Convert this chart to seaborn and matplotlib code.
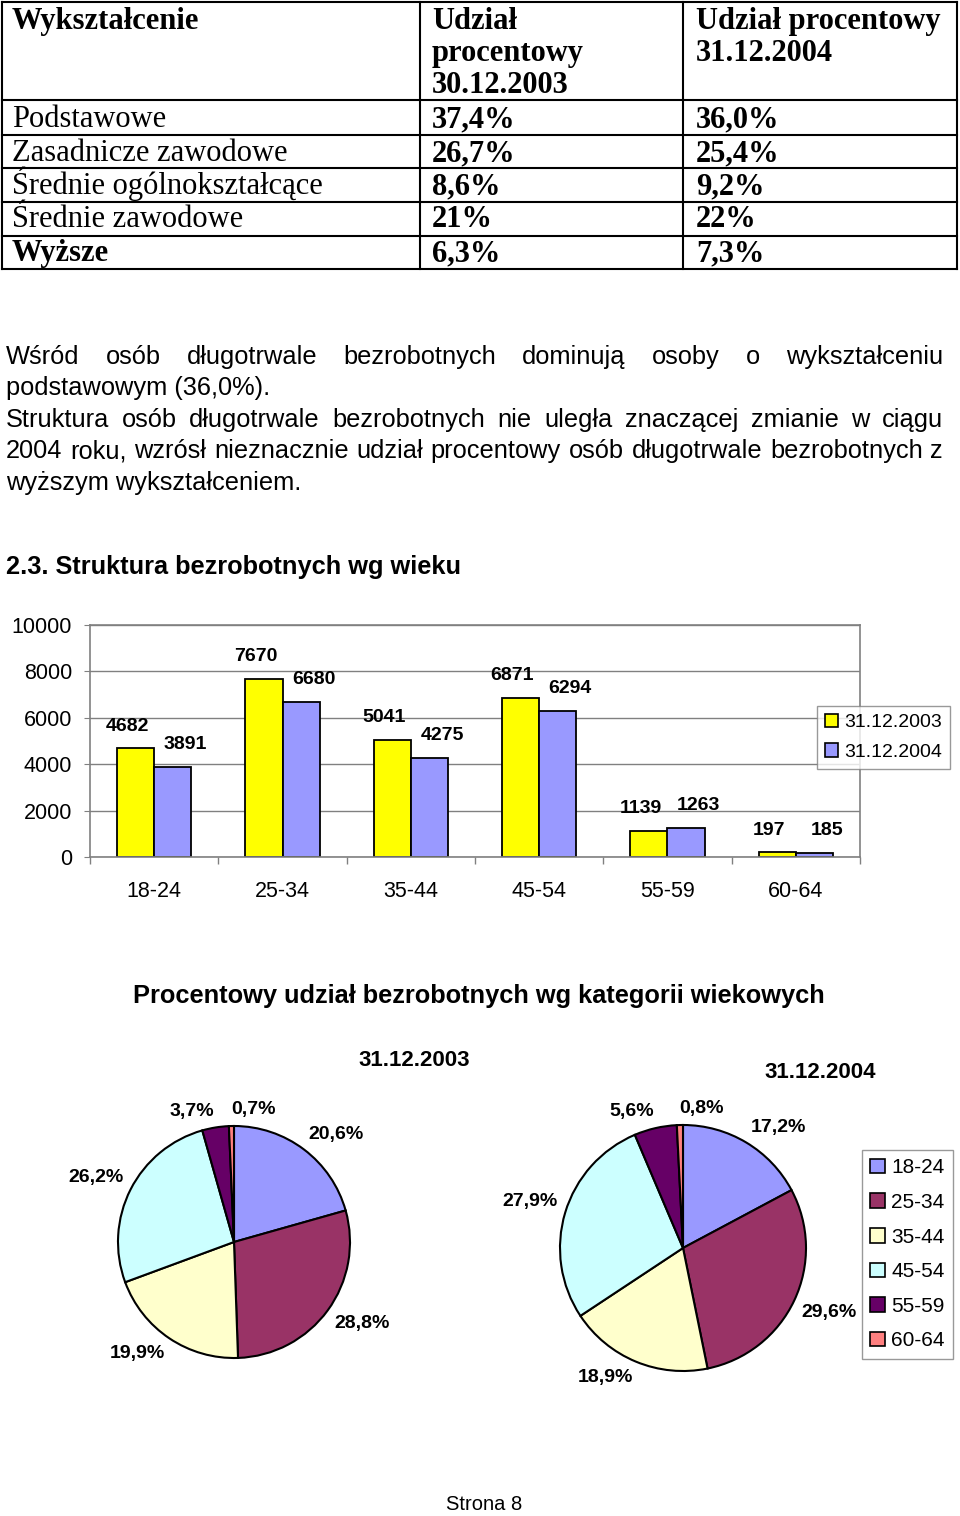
import numpy as np
import pandas as pd
import matplotlib
matplotlib.use("Agg")
import matplotlib.pyplot as plt
import seaborn as sns
from matplotlib.patches import Patch

# ---------------- data ----------------
table_header = ["Wykształcenie", "Udział\nprocentowy\n30.12.2003", "Udział procentowy\n31.12.2004"]
edu_levels = ["Podstawowe", "Zasadnicze zawodowe", "Średnie ogólnokształcące", "Średnie zawodowe", "Wyższe"]
edu_2003 = ["37,4%", "26,7%", "8,6%", "21%", "6,3%"]
edu_2004 = ["36,0%", "25,4%", "9,2%", "22%", "7,3%"]

paragraph_lines = [
    ("Wśród osób długotrwale bezrobotnych dominują osoby o wykształceniu", True),
    ("podstawowym (36,0%).", False),
    ("Struktura osób długotrwale bezrobotnych nie uległa znaczącej zmianie w ciągu", True),
    ("2004 roku, wzrósł nieznacznie udział procentowy osób długotrwale bezrobotnych z", True),
    ("wyższym wykształceniem.", False),
]
section_heading = "2.3. Struktura bezrobotnych wg wieku"

age_groups = ["18-24", "25-34", "35-44", "45-54", "55-59", "60-64"]
count_2003 = [4682, 7670, 5041, 6871, 1139, 197]
count_2004 = [3891, 6680, 4275, 6294, 1263, 185]
series_labels = ["31.12.2003", "31.12.2004"]
y_ticks = [0, 2000, 4000, 6000, 8000, 10000]

pie_title = "Procentowy udział bezrobotnych wg kategorii wiekowych"
share_2003 = [20.6, 28.8, 19.9, 26.2, 3.7, 0.7]
share_2004 = [17.2, 29.6, 18.9, 27.9, 5.6, 0.8]
footer = "Strona 8"

bar_colors = ["#FFFF00", "#9999FF"]
pie_colors = ["#9999FF", "#993366", "#FFFFCC", "#CCFFFF", "#660066", "#FF8080"]

# ---------------- figure ----------------
W, H = 960, 1516
plt.rcParams["font.family"] = ["Liberation Sans", "DejaVu Sans"]
fig = plt.figure(figsize=(W / 100, H / 100), dpi=100)
bg = fig.add_axes([0, 0, 1, 1])
bg.set_xlim(0, W)
bg.set_ylim(H, 0)
bg.axis("off")
renderer = fig.canvas.get_renderer()

# ---------------- table ----------------
col_x = [2, 420, 683, 957]
row_y = [2, 100, 135, 168, 202, 236, 269]
for y in row_y:
    bg.plot([col_x[0], col_x[-1]], [y, y], color="black", lw=1.5, solid_capstyle="projecting")
for x in col_x:
    bg.plot([x, x], [row_y[0], row_y[-1]], color="black", lw=1.5, solid_capstyle="projecting")

serif = ["Liberation Serif", "DejaVu Serif"]
tsize = 22
text_x = [12, 432, 696]
for cx, head in zip(text_x, table_header):
    for i, line in enumerate(head.split("\n")):
        bg.text(cx, 29 + 32 * i, line, family=serif, fontsize=tsize, fontweight="bold", va="baseline")
row_base = [127, 161, 194, 227, 261]
for i, (lvl, a, b) in enumerate(zip(edu_levels, edu_2003, edu_2004)):
    bg.text(text_x[0], row_base[i], lvl, family=serif, fontsize=tsize,
            fontweight="bold" if i == len(edu_levels) - 1 else "normal", va="baseline")
    bg.text(text_x[1], row_base[i], a, family=serif, fontsize=tsize, fontweight="bold", va="baseline")
    bg.text(text_x[2], row_base[i], b, family=serif, fontsize=tsize, fontweight="bold", va="baseline")

# ---------------- paragraph ----------------
def justify(line, y, x0, x1, **kw):
    words = line.split()
    texts = [bg.text(0, y, w, va="baseline", **kw) for w in words]
    widths = [t.get_window_extent(renderer).width for t in texts]
    gap = (x1 - x0 - sum(widths)) / (len(words) - 1)
    x = x0
    for t, w in zip(texts, widths):
        t.set_x(x)
        x += w + gap

psize = 18.3
para_base = [364, 395, 427, 458, 490]
for (line, just), y in zip(paragraph_lines, para_base):
    if just:
        justify(line, y, 6, 943, fontsize=psize)
    else:
        bg.text(6, y, line, fontsize=psize, va="baseline")

bg.text(6, 574, section_heading, fontsize=18.3, fontweight="bold", va="baseline")

# ---------------- bar chart ----------------
ax = fig.add_axes([90 / W, (H - 857) / H, 770 / W, 232 / H])
df = pd.DataFrame({
    "wiek": age_groups * 2,
    "liczba": count_2003 + count_2004,
    "stan": [series_labels[0]] * len(age_groups) + [series_labels[1]] * len(age_groups),
})
sns.barplot(data=df, x="wiek", y="liczba", hue="stan", palette=bar_colors, saturation=1,
            width=0.58, gap=0, edgecolor="black", linewidth=1.3, ax=ax, legend=False)
ax.set_xlim(-0.5, len(age_groups) - 0.5)
ax.set_ylim(0, 10000)
ax.set_yticks(y_ticks)
ax.set_xlabel("")
ax.set_ylabel("")
ax.yaxis.grid(True, color="#808080", lw=1)
ax.set_axisbelow(True)
for s in ax.spines.values():
    s.set_color("#808080")
    s.set_linewidth(1.2)
ax.set_xticks(np.arange(len(age_groups) + 1) - 0.5, minor=True)
ax.tick_params(axis="x", which="major", length=0, pad=17, labelsize=15.5)
ax.tick_params(axis="x", which="minor", length=5, color="#808080", width=1)
ax.tick_params(axis="y", length=4, color="#808080", pad=9, labelsize=15.5)

for cont, vals, dx in zip(ax.containers, [count_2003, count_2004], [-6, 9]):
    for bar, v in zip(cont, vals):
        ax.annotate(str(v), (bar.get_x() + bar.get_width() / 2, bar.get_height()),
                    xytext=(dx, 16), textcoords="offset points", ha="center", va="center",
                    fontsize=14, fontweight="bold", annotation_clip=False)

handles = [Patch(facecolor=c, edgecolor="black", lw=1.2) for c in bar_colors]
ax.legend(handles, series_labels, loc="upper left",
          bbox_to_anchor=((817 - 90) / 770, (857 - 706) / 232), borderaxespad=0,
          frameon=True, fancybox=False, edgecolor="#808080", fontsize=14,
          handlelength=0.7, handleheight=0.7, handletextpad=0.3, labelspacing=0.62,
          borderpad=0.4)

# ---------------- pies ----------------
bg.text(479, 996, pie_title, fontsize=18.3, fontweight="bold", ha="center", va="center")

def draw_pie(cx, cy, r, vals, title, tx, ty):
    pad = 1.6
    pax = fig.add_axes([(cx - pad * r) / W, (H - cy - pad * r) / H, 2 * pad * r / W, 2 * pad * r / H])
    wedges, _ = pax.pie(vals, colors=pie_colors, startangle=90, counterclock=False,
                        wedgeprops=dict(edgecolor="black", linewidth=1.5))
    pax.set_xlim(-pad, pad)
    pax.set_ylim(-pad, pad)
    pax.set_aspect("equal")
    pax.axis("off")
    d = 1 + 8 / r
    for w, v in zip(wedges, vals):
        ang = np.deg2rad((w.theta1 + w.theta2) / 2)
        c, s = np.cos(ang), np.sin(ang)
        ha = "left" if c >= -0.05 else "right"
        va = "bottom" if s > 0 else "top"
        pax.text(d * c, d * s, f"{v:.1f}%".replace(".", ","),
                 ha=ha, va=va, fontsize=14, fontweight="bold")
    bg.text(tx, ty, title, fontsize=16, fontweight="bold", ha="center", va="center")

draw_pie(234, 1242, 116, share_2003, series_labels[0], 414, 1061)
draw_pie(683, 1248, 123, share_2004, series_labels[1], 820, 1073)

pie_handles = [Patch(facecolor=c, edgecolor="black", lw=1.2) for c in pie_colors]
fig.legend(pie_handles, age_groups, loc="upper left",
           bbox_to_anchor=(862 / W, (H - 1150) / H), borderaxespad=0,
           frameon=True, fancybox=False, edgecolor="#808080", fontsize=15,
           handlelength=0.7, handleheight=0.7, handletextpad=0.3, labelspacing=0.75,
           borderpad=0.4)

bg.text(484, 1505, footer, fontsize=14.5, ha="center", va="center")

fig.savefig("out.png", dpi=100)
